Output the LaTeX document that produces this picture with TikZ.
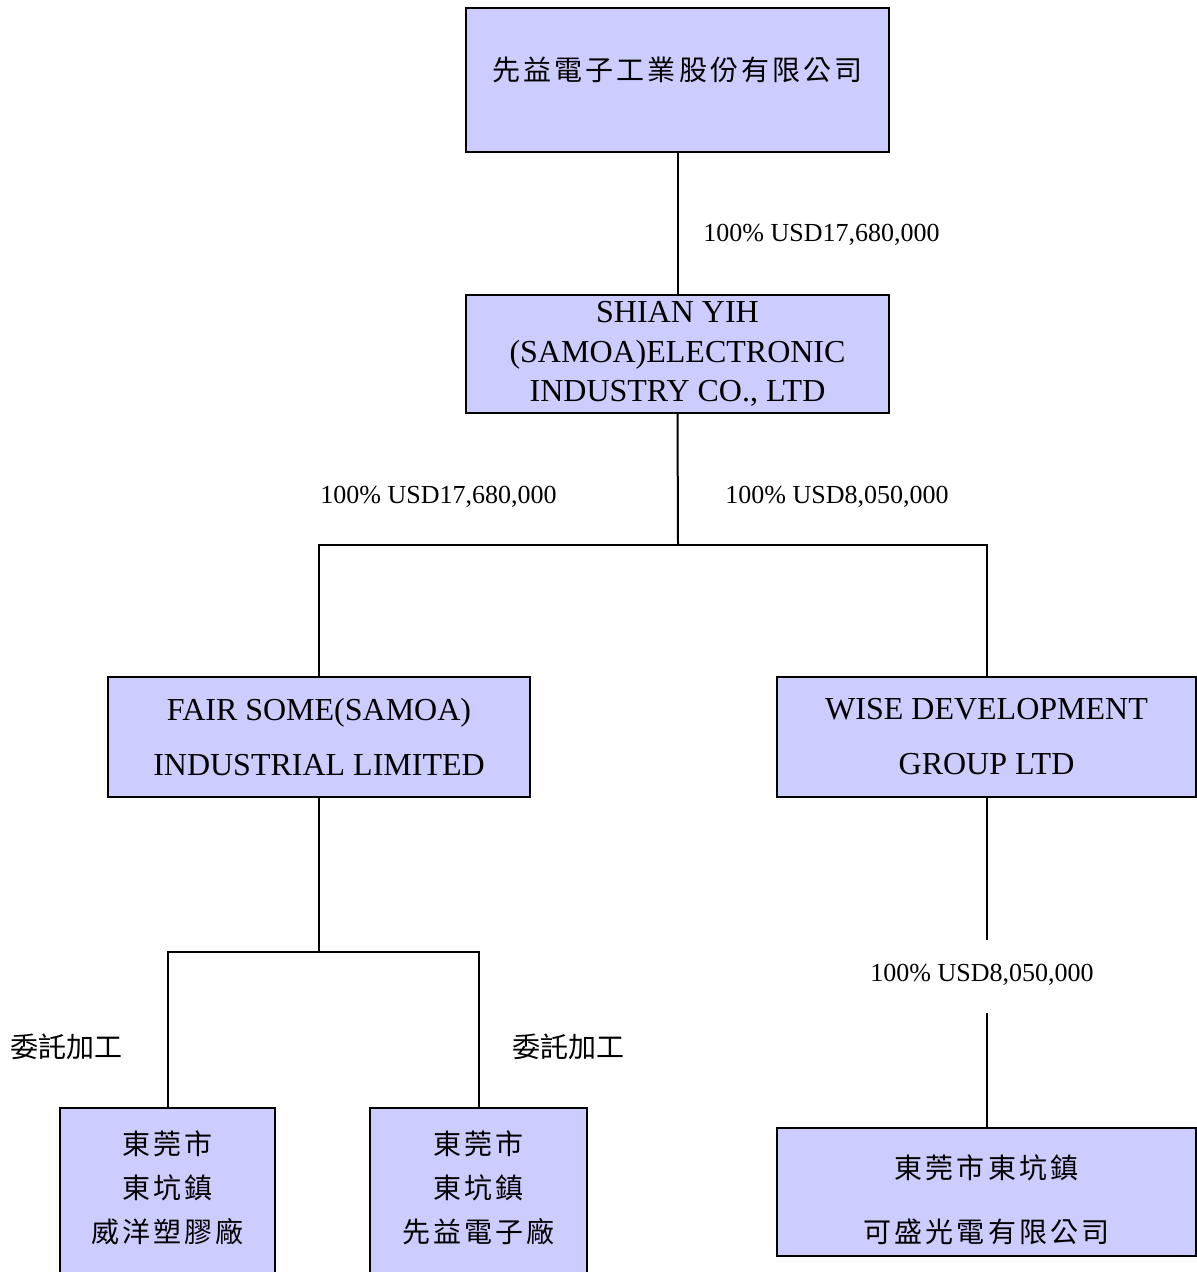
\documentclass[tikz,border=0pt]{standalone}
\usepackage{fontspec}
\setmainfont{Liberation Serif}
\newfontfamily\cjk[LetterSpace=11]{Noto Sans CJK TC}
\newfontfamily\cjklbl[LetterSpace=0]{Noto Sans CJK TC}
\definecolor{boxfill}{HTML}{CCCCFF}
\newcommand{\rowsof}[2]{\begin{tabular}{@{}c@{}}#2\end{tabular}}
\newcommand{\shiftup}[2]{\raisebox{#1}[\height][\depth]{#2}}
\begin{document}
\begin{tikzpicture}[x=0.5pt,y=-0.5pt,
  orgbox/.style={draw=black, line width=1pt, fill=boxfill, inner sep=0pt, align=center},
  entxt/.style={font=\fontsize{16}{19.75}\selectfont},
  enwide/.style={font=\fontsize{16}{27.5}\selectfont},
  conn/.style={line width=1pt},
  lbl/.style={inner sep=0pt, font=\fontsize{13}{15}\selectfont},
  cjklabel/.style={inner sep=0pt, font=\cjklbl\fontsize{14}{16}\selectfont},
]
\useasboundingbox (0,0) rectangle (1197,1272);
\clip (0,0) rectangle (1197,1272);

% boxes
\node[orgbox, minimum width=211.5pt, minimum height=72pt, font=\cjk\fontsize{14}{16}\selectfont] (top) at (677.5,80)
  {\shiftup{3pt}{\rowsof{}{先益電子工業股份有限公司}}};
\node[orgbox, entxt, minimum width=211.5pt, minimum height=59pt] (shian) at (677.5,354)
  {SHIAN YIH\\(SAMOA)ELECTRONIC\\INDUSTRY CO., LTD};
\node[orgbox, enwide, minimum width=211pt, minimum height=60pt] (fair) at (319,737)
  {FAIR SOME(SAMOA)\\INDUSTRIAL LIMITED};
\node[orgbox, enwide, minimum width=209.5pt, minimum height=60pt] (wise) at (986.5,737)
  {WISE DEVELOPMENT\\GROUP LTD};
\node[orgbox, minimum width=107.5pt, minimum height=88.5pt, font=\cjk\fontsize{14}{22}\selectfont] (weiyang) at (167.5,1196.5)
  {\shiftup{3.25pt}{\rowsof{}{東莞市\\東坑鎮\\威洋塑膠廠}}};
\node[orgbox, minimum width=108.5pt, minimum height=88.5pt, font=\cjk\fontsize{14}{22}\selectfont] (xianyi) at (478.5,1196.5)
  {\shiftup{3.25pt}{\rowsof{}{東莞市\\東坑鎮\\先益電子廠}}};
\node[orgbox, minimum width=209.5pt, minimum height=60.5pt, font=\cjk\fontsize{14}{32}\selectfont] (kesheng) at (986.5,1191.5)
  {\shiftup{-3pt}{\rowsof{}{東莞市東坑鎮\\可盛光電有限公司}}};

% labels
\node[lbl, anchor=west] (l1) at (703,235) {100\% USD17,680,000};
\node[lbl, anchor=west] (l2) at (320,497) {100\% USD17,680,000};
\node[lbl, anchor=west] (l3) at (725,497) {100\% USD8,050,000};
\node[lbl] (l4) at (982,975) {100\% USD8,050,000};
\node[cjklabel, anchor=west] (l5) at (10,1047) {委託加工};
\node[cjklabel, anchor=west] (l6) at (512,1047) {委託加工};

% junctions
\coordinate (j1) at (678,545);
\coordinate (j2) at (319,952);
\coordinate (g1) at (986.5,940);
\coordinate (g2) at (986.5,1013);

% connectors
\draw[conn] (top.south) -- (shian.north);
\draw[conn] (shian.south) -- (j1);
\draw[conn] (fair.north) |- (j1) -| (wise.north);
\draw[conn] (fair.south) -- (j2);
\draw[conn] (weiyang.north) |- (j2) -| (xianyi.north);
\draw[conn] (wise.south) -- (g1);
\draw[conn] (g2) -- (kesheng.north);
\end{tikzpicture}
\end{document}
